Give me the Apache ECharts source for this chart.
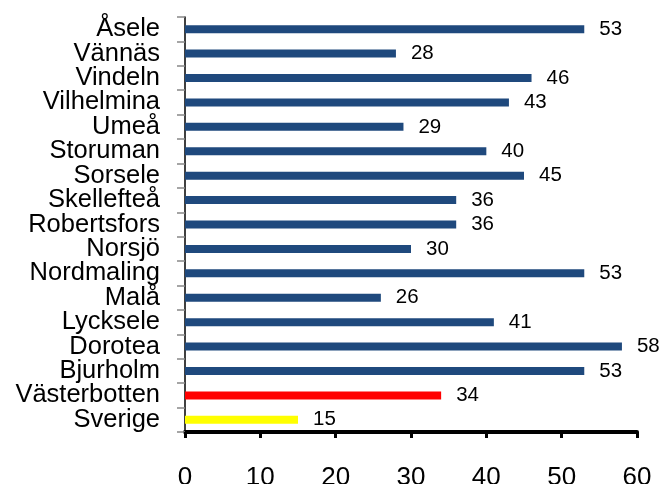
<!DOCTYPE html>
<html>
<head>
<meta charset="utf-8">
<script src="https://cdn.jsdelivr.net/npm/echarts@6/dist/echarts.min.js"></script>
<style>
html,body{margin:0;padding:0;background:#fff;}
#c{width:661px;height:484px;}
</style>
</head>
<body>
<div id="c"></div>
<script>
var categories = ["Åsele","Vännäs","Vindeln","Vilhelmina","Umeå","Storuman","Sorsele","Skellefteå","Robertsfors","Norsjö","Nordmaling","Malå","Lycksele","Dorotea","Bjurholm","Västerbotten","Sverige"];
var values = [53,28,46,43,29,40,45,36,36,30,53,26,41,58,53,34,15];
var barColors = ["#1F497D","#1F497D","#1F497D","#1F497D","#1F497D","#1F497D","#1F497D","#1F497D","#1F497D","#1F497D","#1F497D","#1F497D","#1F497D","#1F497D","#1F497D","#FF0000","#FFFF00"];
var xTicks = [0,10,20,30,40,50,60];

var chart = echarts.init(document.getElementById('c'), null, {renderer:'canvas'});
chart.setOption({
  animation: false,
  grid: {left: 185, right: 24, top: 17, bottom: 52, containLabel: false, outerBoundsMode: 'none'},
  xAxis: {
    type: 'value', min: xTicks[0], max: xTicks[xTicks.length-1], interval: 10,
    axisLine: {show: true, lineStyle: {color: '#000', width: 4}},
    axisTick: {show: true, length: 6, lineStyle: {color: '#000', width: 3}},
    splitLine: {show: false},
    axisLabel: {fontFamily: 'Liberation Sans', fontSize: 26, color: '#000', margin: 33}
  },
  yAxis: {
    type: 'category', data: categories, inverse: true,
    axisLine: {show: true, lineStyle: {color: '#000', width: 1.5}},
    axisTick: {show: true, length: 8, inside: false, alignWithLabel: false, lineStyle: {color: '#888', width: 1.5}},
    axisLabel: {interval: 0, hideOverlap: false, fontFamily: 'Liberation Sans', fontSize: 25.5, color: '#000', margin: 25, padding: [0,0,5,0]},
    splitLine: {show: false}
  },
  series: [{
    type: 'bar',
    barWidth: 8,
    data: values.map(function(v,i){ return {value: v, itemStyle: {color: barColors[i]}}; }),
    label: {show: true, position: 'right', distance: 15, fontFamily: 'Liberation Sans', fontSize: 20.5, color: '#000'}
  }]
});
</script>
</body>
</html>
